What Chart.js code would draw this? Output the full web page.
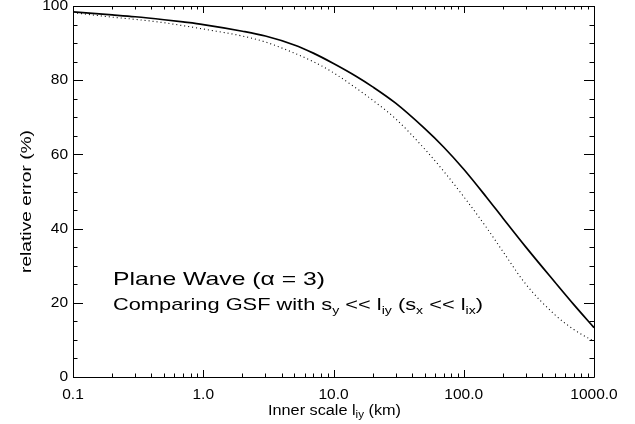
<!DOCTYPE html>
<html>
<head>
<meta charset="utf-8">
<script src="https://cdn.jsdelivr.net/npm/chart.js@4/dist/chart.umd.min.js"></script>
<style>
html,body{margin:0;padding:0;background:#fff;}
#wrap{width:635px;height:424px;position:relative;}
</style>
</head>
<body>
<div id="wrap"><canvas id="c" width="635" height="424"></canvas></div>
<script>
// Inner scale l_iy (km)
const innerScale = [0.1,0.2,0.3,0.5,0.7,1,2,3,5,7,10,15,20,30,50,70,100,150,200,300,500,700,1000];
// solid curve: relative error (%)
const errorSolid = [98.4,97.6,97.1,96.3,95.7,95.0,93.2,91.9,89.5,87.3,84.5,81.0,78.2,73.8,67.0,62.0,56.0,48.4,42.8,35.0,25.6,19.5,13.3];
// dotted curve: relative error (%)
const errorDotted = [98.2,97.0,96.4,95.5,94.7,93.8,91.9,90.3,87.3,85.0,82.0,77.8,74.6,69.6,61.5,55.5,48.6,40.2,33.8,25.0,16.8,12.8,9.6];
const xTicks = [0.1,1,10,100,1000];
const yTicks = [0,20,40,60,80,100];

const xTitle = ["Inner scale l", "iy", " (km)"];
const yTitle = "relative error (%)";
const noteLine1 = "Plane Wave (\u03b1 = 3)";
const noteLine2 = [["Comparing GSF with s",0],["y",1],[" << l",0],["iy",1],[" (s",0],["x",1],[" << l",0],["ix",1],[")",0]];

const FONT = "'Liberation Sans', Arial, Helvetica, sans-serif";

function fitText(ctx, parts, x, y, targetW, size, subSize, subDrop){
  let w = 0;
  const widths = parts.map(p=>{
    ctx.font = (p[1]? subSize: size) + "px " + FONT;
    const m = ctx.measureText(p[0]).width; w += m; return m;
  });
  const sx = targetW / w;
  ctx.save();
  ctx.translate(x, y);
  ctx.scale(sx, 1);
  let cx = 0;
  parts.forEach((p,i)=>{
    ctx.font = (p[1]? subSize: size) + "px " + FONT;
    ctx.fillText(p[0], cx, p[1]? subDrop: 0);
    cx += widths[i];
  });
  ctx.restore();
}

const framePlugin = {
  id: 'frame',
  afterDraw(chart){
    const ctx = chart.ctx;
    const xs = chart.scales.x, ys = chart.scales.y;
    const L = chart.chartArea.left, R = chart.chartArea.right, T = chart.chartArea.top, B = chart.chartArea.bottom;
    ctx.save();
    ctx.strokeStyle = '#000';
    ctx.lineWidth = 1;
    ctx.beginPath();
    ctx.rect(Math.round(L)+0.5, Math.round(T)+0.5, Math.round(R-L), Math.round(B-T));
    ctx.stroke();
    ctx.beginPath();
    for (let d = -1; d <= 3; d++){
      const base = Math.pow(10,d);
      for (let k = 1; k <= 9; k++){
        const v = base*k;
        if (v > 1000.0001) break;
        const px = Math.round(xs.getPixelForValue(v))+0.5;
        const len = k===1 ? 7 : 3.5;
        ctx.moveTo(px, B); ctx.lineTo(px, B-len);
        ctx.moveTo(px, T); ctx.lineTo(px, T+len);
      }
    }
    for (let v = 0; v <= 100; v += 5){
      const py = Math.round(ys.getPixelForValue(v))+0.5;
      const len = (v % 20 === 0) ? 10 : 4.5;
      ctx.moveTo(L, py); ctx.lineTo(L+len, py);
      ctx.moveTo(R, py); ctx.lineTo(R-len, py);
    }
    ctx.stroke();

    ctx.fillStyle = '#000';
    ctx.textBaseline = 'alphabetic';
    ctx.textAlign = 'left';
    fitText(ctx, [[xTitle[0],0],[xTitle[1],1],[xTitle[2],0]], 268, 415, 133, 14, 10, 3);
    ctx.save();
    ctx.translate(31, 273);
    ctx.rotate(-Math.PI/2);
    fitText(ctx, [[yTitle,0]], 0, 0, 143, 14, 10, 0);
    ctx.restore();
    fitText(ctx, [[noteLine1,0]], 113, 285, 212, 19, 12, 0);
    fitText(ctx, noteLine2, 113, 310, 370, 17, 11, 4);
    ctx.restore();
  }
};

new Chart(document.getElementById('c'), {
  type: 'line',
  data: {
    datasets: [
      {
        data: innerScale.map((x,i)=>({x:x, y:errorSolid[i]})),
        borderColor: '#000', borderWidth: 1.7, pointRadius: 0,
        cubicInterpolationMode: 'monotone', fill: false
      },
      {
        data: innerScale.map((x,i)=>({x:x, y:errorDotted[i]})),
        borderColor: '#000', borderWidth: 1.1, borderDash: [1,3], pointRadius: 0,
        cubicInterpolationMode: 'monotone', fill: false
      }
    ]
  },
  options: {
    responsive: false,
    animation: false,
    devicePixelRatio: 1,
    layout: { padding: { top: 6, right: 41, left: 0, bottom: 0 } },
    plugins: { legend: { display: false }, tooltip: { enabled: false }, title: { display: false } },
    scales: {
      x: {
        type: 'logarithmic', min: 0.1, max: 1000,
        grid: { display: false, drawTicks: false },
        border: { display: false },
        title: { display: false },
        afterBuildTicks: s => { s.ticks = xTicks.map(v=>({value:v})); },
        afterFit: s => { s.height = 47; s.paddingLeft = 0; s.paddingRight = 0; },
        ticks: {
          autoSkip: false, maxRotation: 0, minRotation: 0, padding: 8,
          color: '#000', font: { family: FONT, size: 15.5 },
          callback: v => Number(v).toFixed(1)
        }
      },
      y: {
        min: 0, max: 100,
        grid: { display: false, drawTicks: false },
        border: { display: false },
        title: { display: false },
        afterBuildTicks: s => { s.ticks = yTicks.map(v=>({value:v})); },
        afterFit: s => { s.width = 73; s.paddingTop = 0; s.paddingBottom = 0; },
        ticks: {
          padding: 5, color: '#000', font: { family: FONT, size: 15.5 },
          callback: v => String(v)
        }
      }
    }
  },
  plugins: [framePlugin]
});
</script>
</body>
</html>
